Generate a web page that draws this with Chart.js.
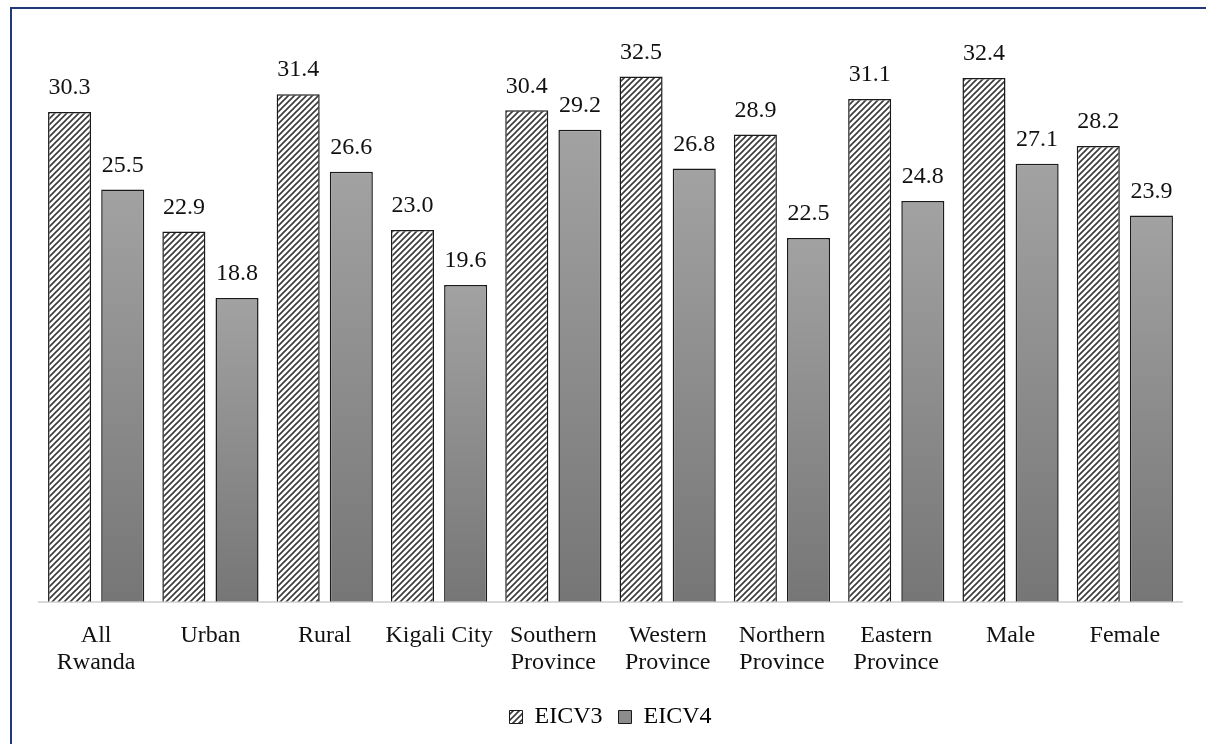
<!DOCTYPE html>
<html>
<head>
<meta charset="utf-8">
<script src="https://cdn.jsdelivr.net/npm/chart.js@4"></script>
<style>
  html, body { margin: 0; padding: 0; background: #fff; }
  #wrap { width: 1206px; height: 744px; }
</style>
</head>
<body>
<div id="wrap"><canvas id="povertyChart" width="1206" height="744"></canvas></div>
<script>
const categories = [
  ["All", "Rwanda"], "Urban", "Rural", "Kigali City",
  ["Southern", "Province"], ["Western", "Province"], ["Northern", "Province"],
  ["Eastern", "Province"], "Male", "Female"
];
const eicv3 = [30.3, 22.9, 31.4, 23.0, 30.4, 32.5, 28.9, 31.1, 32.4, 28.2];
const eicv4 = [25.5, 18.8, 26.6, 19.6, 29.2, 26.8, 22.5, 24.8, 27.1, 23.9];
const seriesNames = ["EICV3", "EICV4"];

const FONT = "'Liberation Serif', 'DejaVu Serif', serif";

// diagonal hatch for EICV3
function makeHatch() {
  const c = document.createElement("canvas");
  c.width = 6;
  c.height = 6;
  const g = c.getContext("2d");
  g.fillStyle = "#ffffff";
  g.fillRect(0, 0, 6, 6);
  g.strokeStyle = "#3a3a3a";
  g.lineWidth = 1.6;
  g.beginPath();
  g.moveTo(-1, 7); g.lineTo(7, -1);
  g.moveTo(-4, 4); g.lineTo(4, -4);
  g.moveTo(2, 10); g.lineTo(10, 2);
  g.stroke();
  return g.createPattern(c, "repeat");
}
const ctx = document.getElementById("povertyChart").getContext("2d");
const hatch = makeHatch();

// grey gradient per bar for EICV4
function greyBar(context) {
  const chart = context.chart;
  const area = chart.chartArea;
  if (!area || context.dataIndex === undefined) return "#8c8c8c";
  const y = chart.scales.y;
  const top = y.getPixelForValue(context.raw);
  const bottom = y.getPixelForValue(0);
  const grad = chart.ctx.createLinearGradient(0, top, 0, bottom);
  grad.addColorStop(0, "#a2a2a2");
  grad.addColorStop(1, "#767676");
  return grad;
}

const frame = {
  id: "frame",
  beforeDraw(chart) {
    const c = chart.ctx;
    c.save();
    c.fillStyle = "#fff";
    c.fillRect(0, 0, chart.width, chart.height);
    c.strokeStyle = "#1f3a78";
    c.lineWidth = 2;
    c.beginPath();
    c.moveTo(11, chart.height + 2);
    c.lineTo(11, 8);
    c.lineTo(chart.width + 2, 8);
    c.stroke();
    c.restore();
  }
};

const valueLabels = {
  id: "valueLabels",
  afterDatasetsDraw(chart) {
    const c = chart.ctx;
    c.save();
    c.font = "24px " + FONT;
    c.fillStyle = "#111";
    c.textAlign = "center";
    c.textBaseline = "bottom";
    chart.data.datasets.forEach((ds, i) => {
      chart.getDatasetMeta(i).data.forEach((bar, j) => {
        c.fillText(ds.data[j].toFixed(1), bar.x, bar.y - 12);
      });
    });
    c.restore();
  }
};

new Chart(ctx, {
  type: "bar",
  data: {
    labels: categories,
    datasets: [
      {
        label: seriesNames[0],
        data: eicv3,
        backgroundColor: hatch,
        borderColor: "#1a1a1a",
        borderWidth: 1.5,
      },
      {
        label: seriesNames[1],
        data: eicv4,
        backgroundColor: greyBar,
        borderColor: "#1a1a1a",
        borderWidth: 1.5,
      },
    ],
  },
  options: {
    responsive: false,
    animation: false,
    categoryPercentage: 0.93,
    barPercentage: 0.81,
    layout: { padding: { left: 39, right: 24, top: 36, bottom: 5 } },
    scales: {
      y: { display: false, min: 0, max: 35 },
      x: {
        grid: { display: false },
        border: { color: "#d9d9d9", width: 2 },
        ticks: {
          color: "#111",
          font: { family: FONT, size: 24, lineHeight: 1.15 },
          padding: 12,
          maxRotation: 0,
          autoSkip: false,
        },
      },
    },
    plugins: {
      tooltip: { enabled: false },
      legend: {
        position: "bottom",
        labels: {
          color: "#111",
          font: { family: FONT, size: 24 },
          boxWidth: 13,
          boxHeight: 13,
          padding: 16,
          generateLabels: () => [
            { text: seriesNames[0], fillStyle: hatch, strokeStyle: "#1a1a1a", lineWidth: 1, datasetIndex: 0 },
            { text: seriesNames[1], fillStyle: "#8c8c8c", strokeStyle: "#1a1a1a", lineWidth: 1, datasetIndex: 1 },
          ],
        },
      },
    },
  },
  plugins: [frame, valueLabels],
});
</script>
</body>
</html>
